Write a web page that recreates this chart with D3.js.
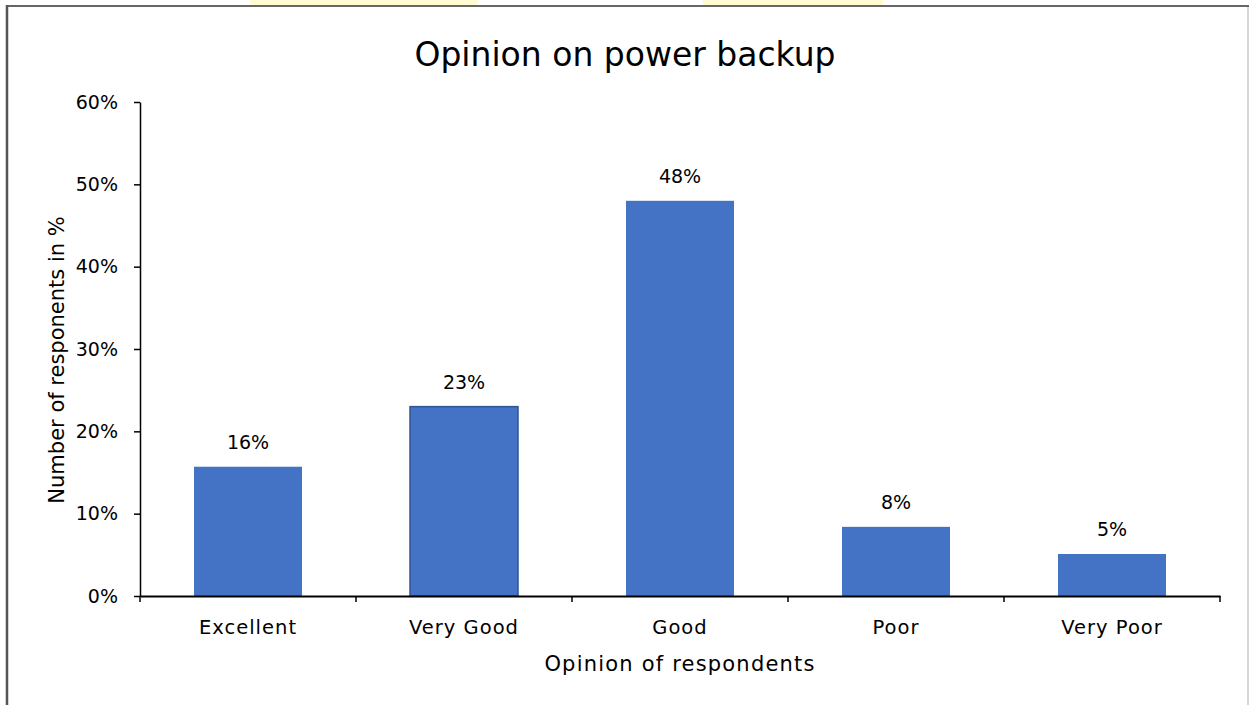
<!DOCTYPE html>
<html>
<head>
<meta charset="utf-8">
<script src="https://cdn.jsdelivr.net/npm/d3@7"></script>
<style>
  body { margin: 0; background: #fff; }
  svg { display: block; font-family: "DejaVu Sans", Verdana, sans-serif; }
</style>
</head>
<body>
<svg id="chart" width="1249" height="705"></svg>
<script>
// données
var categories = ["Excellent", "Very Good", "Good", "Poor", "Very Poor"];
var valeurs = [0.157, 0.23, 0.48, 0.084, 0.051];
var etiquettes = ["16%", "23%", "48%", "8%", "5%"];
var yTicks = [0, 0.1, 0.2, 0.3, 0.4, 0.5, 0.6];

var svg = d3.select("#chart");
var W = 1249, H = 705;

// cadre et restes de bandeau jaune en haut
svg.append("rect").attr("x", 250).attr("y", 0).attr("width", 227).attr("height", 5).attr("fill", "#fdfbcf");
svg.append("rect").attr("x", 703).attr("y", 0).attr("width", 180).attr("height", 5).attr("fill", "#fdfbcf");
svg.append("line").attr("x1", 6).attr("x2", W).attr("y1", 6).attr("y2", 6)
    .attr("stroke", "#333").attr("stroke-width", 1.5);
svg.append("line").attr("x1", 7).attr("x2", 7).attr("y1", 5).attr("y2", H)
    .attr("stroke", "#555").attr("stroke-width", 2.5);
svg.append("line").attr("x1", 1248).attr("x2", 1248).attr("y1", 7).attr("y2", H)
    .attr("stroke", "#c8c8c8").attr("stroke-width", 1.5);

var x = d3.scaleBand()
    .domain(categories)
    .range([140, 1220])
    .paddingInner(0.5)
    .paddingOuter(0.25);

var y = d3.scaleLinear()
    .domain([0, 0.6])
    .range([596, 102]);

// titre
svg.append("text")
    .attr("x", 625).attr("y", 66)
    .attr("text-anchor", "middle")
    .style("font-size", "33px")
    .attr("fill", "#000")
    .text("Opinion on power backup");

// barres
svg.selectAll(".bar")
    .data(categories)
    .enter().append("rect")
    .attr("class", "bar")
    .attr("x", function(d) { return x(d); })
    .attr("width", x.bandwidth())
    .attr("y", function(d, i) { return y(valeurs[i]); })
    .attr("height", function(d, i) { return y(0) - y(valeurs[i]); })
    .attr("fill", "#4472c4")
    .attr("stroke", function(d) { return d === "Very Good" ? "#2f5597" : "none"; })
    .attr("stroke-width", 1.5);

// étiquettes de valeurs
svg.selectAll(".lbl")
    .data(categories)
    .enter().append("text")
    .attr("class", "lbl")
    .attr("x", function(d) { return x(d) + x.bandwidth() / 2; })
    .attr("y", function(d, i) { return y(valeurs[i]) - 18; })
    .attr("text-anchor", "middle")
    .style("font-size", "19px")
    .attr("fill", "#000")
    .text(function(d, i) { return etiquettes[i]; });

// axe y
var gy = svg.append("g")
    .attr("transform", "translate(140,0)")
    .call(d3.axisLeft(y).tickValues(yTicks).tickFormat(d3.format(".0%"))
        .tickSize(6).tickSizeOuter(0).tickPadding(16));
gy.select(".domain").attr("stroke", "#000").attr("stroke-width", 1.5);
gy.selectAll(".tick line").attr("stroke", "#000").attr("stroke-width", 1.5);
gy.selectAll(".tick text").style("font-size", "19px").style("font-family", "DejaVu Sans").attr("fill", "#000");

// axe x
var gx = svg.append("g")
    .attr("transform", "translate(0,596)")
    .call(d3.axisBottom(x).tickSize(0).tickPadding(24).tickSizeOuter(0));
gx.select(".domain").attr("stroke", "#000").attr("stroke-width", 2);
gx.selectAll(".tick text").style("font-size", "19.5px").style("letter-spacing", "1px")
    .style("font-family", "DejaVu Sans").attr("fill", "#000");

// graduations entre les catégories
var demi = (x.step() - x.bandwidth()) / 2;
var bornes = categories.map(function(d) { return x(d) - demi; });
bornes.push(x(categories[categories.length - 1]) + x.bandwidth() + demi);
gx.selectAll(".borne")
    .data(bornes)
    .enter().append("line")
    .attr("class", "borne")
    .attr("x1", function(d) { return d; }).attr("x2", function(d) { return d; })
    .attr("y1", 0).attr("y2", 6)
    .attr("stroke", "#000").attr("stroke-width", 1.5);

// titres des axes
svg.append("text")
    .attr("x", 680).attr("y", 671)
    .attr("text-anchor", "middle")
    .style("font-size", "21px")
    .style("letter-spacing", "1.2px")
    .attr("fill", "#000")
    .text("Opinion of respondents");

svg.append("text")
    .attr("transform", "translate(64,360) rotate(-90)")
    .attr("text-anchor", "middle")
    .style("font-size", "21px")
    .attr("fill", "#000")
    .text("Number of responents in %");
</script>
</body>
</html>
